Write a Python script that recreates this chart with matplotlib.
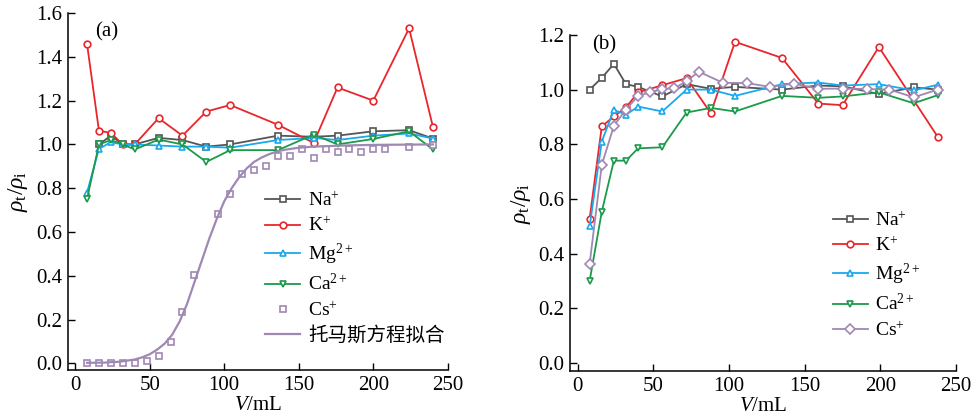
import matplotlib
matplotlib.use("Agg")
import matplotlib.pyplot as plt
from matplotlib.ticker import FormatStrFormatter, MultipleLocator

# fonts: Times-like text, CJK fallback for the fit label
plt.rcParams['font.family'] = ['Liberation Serif', 'Noto Sans CJK SC']
plt.rcParams['mathtext.fontset'] = 'custom'
plt.rcParams['mathtext.rm'] = 'Liberation Serif'
plt.rcParams['mathtext.it'] = 'Liberation Serif:italic'
plt.rcParams['mathtext.bf'] = 'Liberation Serif:bold'

# ---- panel (a) data ----
v_a = [8, 16, 24, 32, 40, 56, 72, 88, 104, 136, 160, 176, 200, 224, 240]
v_na_a = [16, 24, 32, 40, 56, 72, 88, 104, 136, 160, 176, 200, 224, 240]
na_a = [1.00, 1.04, 1.00, 1.00, 1.03, 1.02, 0.99, 1.00, 1.04, 1.035, 1.04, 1.06, 1.065, 1.027]
k_a = [1.46, 1.063, 1.052, 1.00, 1.00, 1.12, 1.04, 1.15, 1.18, 1.09, 1.007, 1.26, 1.20, 1.53, 1.08]
mg_a = [0.78, 0.98, 1.01, 1.00, 1.00, 0.995, 0.99, 0.99, 0.985, 1.02, 1.03, 1.02, 1.04, 1.05, 1.027]
ca_a = [0.75, 1.00, 1.02, 1.00, 0.977, 1.022, 1.00, 0.92, 0.974, 0.974, 1.045, 1.00, 1.025, 1.06, 0.977]

v_cs_a = [8, 16, 24, 32, 40, 48, 56, 64, 72, 80, 96, 104, 112, 120, 128, 136, 144,
          152, 160, 168, 176, 184, 192, 200, 208, 224, 240]
cs_a = [0.00, 0.00, 0.00, 0.00, 0.00, 0.01, 0.035, 0.10, 0.235, 0.405, 0.684, 0.775,
        0.864, 0.885, 0.902, 0.946, 0.946, 0.978, 0.94, 0.978, 0.966, 0.98, 0.965,
        0.98, 0.978, 0.99, 0.998]

# Thomas fit curve
v_fit = [8, 20, 30, 40, 45, 50, 55, 60, 65, 70, 75, 80, 85, 90, 95, 100, 105, 110,
         115, 120, 125, 130, 135, 140, 150, 160, 180, 200, 220, 240]
fit_a = [0.003, 0.004, 0.008, 0.018, 0.028, 0.042, 0.063, 0.09, 0.13, 0.19, 0.27,
         0.37, 0.47, 0.57, 0.66, 0.74, 0.80, 0.85, 0.89, 0.92, 0.94, 0.955, 0.967,
         0.975, 0.985, 0.99, 0.995, 0.998, 0.999, 1.0]

# ---- panel (b) data ----
v_b = [8, 16, 24, 32, 40, 56, 72, 88, 104, 135, 159, 175, 199, 222, 238]
na_b = [1.00, 1.043, 1.094, 1.02, 1.01, 0.975, 1.02, 1.003, 1.01, 1.00, 1.015, 1.012, 0.984, 1.008, 1.00]
v_k_b = [8, 16, 24, 32, 40, 56, 72, 88, 104, 135, 159, 175, 199, 238]
k_b = [0.528, 0.865, 0.902, 0.935, 0.99, 1.016, 1.042, 0.914, 1.175, 1.116, 0.949, 0.943, 1.156, 0.826]
mg_b = [0.50, 0.81, 0.926, 0.908, 0.938, 0.92, 1.0, 1.0, 0.977, 1.02, 1.026, 1.015, 1.02, 0.997, 1.018]
ca_b = [0.30, 0.553, 0.74, 0.74, 0.785, 0.789, 0.916, 0.933, 0.92, 0.977, 0.97, 0.975, 0.99, 0.95, 0.98]
v_cs_b = [8, 16, 24, 32, 40, 48, 56, 64, 72, 80, 96, 112, 127, 143, 159, 175, 191, 206, 222, 238]
cs_b = [0.363, 0.724, 0.868, 0.927, 0.977, 0.99, 1.002, 1.006, 1.03, 1.066, 1.025, 1.024,
        1.01, 1.022, 1.003, 1.004, 1.002, 1.0, 0.972, 1.0]

labels = [r'Na$^{+}$', r'K$^{+}$', r'Mg$^{2+}$', r'Ca$^{2+}$', r'Cs$^{+}$']
fit_label = '托马斯方程拟合'

C_NA = '#555555'
C_K = '#e8262b'
C_MG = '#19a9ee'
C_CA = '#1b9a4a'
C_CS = '#9f88b3'

LW = 1.3
MS = 4.8


def style_axes(ax, ymax):
    ax.set_xlim(-5, 250)
    ax.set_ylim(-0.03, ymax)
    ax.spines['top'].set_visible(False)
    ax.spines['right'].set_visible(False)
    ax.xaxis.set_major_locator(MultipleLocator(50))
    ax.yaxis.set_major_locator(MultipleLocator(0.2))
    ax.yaxis.set_major_formatter(FormatStrFormatter('%.1f'))
    ax.tick_params(direction='in', length=5, width=1.0, labelsize=15, pad=4)
    for s in ('left', 'bottom'):
        ax.spines[s].set_linewidth(1.1)
    ax.set_xlabel(r'$V$/mL', fontsize=15, labelpad=1)
    ax.set_ylabel(r'$\rho_{\rm t}/\rho_{\rm i}$', fontsize=17, labelpad=4)


def line(ax, x, y, color, marker, label):
    ax.plot(x, y, color=color, lw=LW, marker=marker, ms=MS, mfc='white',
            mec=color, mew=1.2, label=label)


fig = plt.figure(figsize=(9.8, 4.2), dpi=100)

# (a)
ax1 = fig.add_axes([0.069, 0.119, 0.388, 0.85])
line(ax1, v_na_a, na_a, C_NA, 's', labels[0])
line(ax1, v_a, k_a, C_K, 'o', labels[1])
line(ax1, v_a, mg_a, C_MG, '^', labels[2])
line(ax1, v_a, ca_a, C_CA, 'v', labels[3])
ax1.plot(v_cs_a, cs_a, ls='none', marker='s', ms=MS, mfc='white', mec=C_CS,
         mew=1.2, label=labels[4])
ax1.plot(v_fit, fit_a, color=C_CS, lw=1.6, label=fit_label)
style_axes(ax1, 1.6)
ax1.text(0.072, 0.947, '(a)', transform=ax1.transAxes, fontsize=15, va='center')
ax1.legend(loc='upper left', bbox_to_anchor=(0.52, 0.50), frameon=False,
           fontsize=14, handlelength=1.8, handletextpad=0.4, labelspacing=0.33,
           borderpad=0, borderaxespad=0)

# (b)
ax2 = fig.add_axes([0.5816, 0.1167, 0.394, 0.8])
line(ax2, v_b, na_b, C_NA, 's', labels[0])
line(ax2, v_k_b, k_b, C_K, 'o', labels[1])
line(ax2, v_b, mg_b, C_MG, '^', labels[2])
line(ax2, v_b, ca_b, C_CA, 'v', labels[3])
line(ax2, v_cs_b, cs_b, C_CS, 'D', labels[4])
style_axes(ax2, 1.2)
ax2.text(0.057, 0.97, '(b)', transform=ax2.transAxes, fontsize=15, va='center')
ax2.legend(loc='upper left', bbox_to_anchor=(0.68, 0.475), frameon=False,
           fontsize=14, handlelength=1.8, handletextpad=0.4, labelspacing=0.33,
           borderpad=0, borderaxespad=0)

fig.savefig('out.png', dpi=100)
